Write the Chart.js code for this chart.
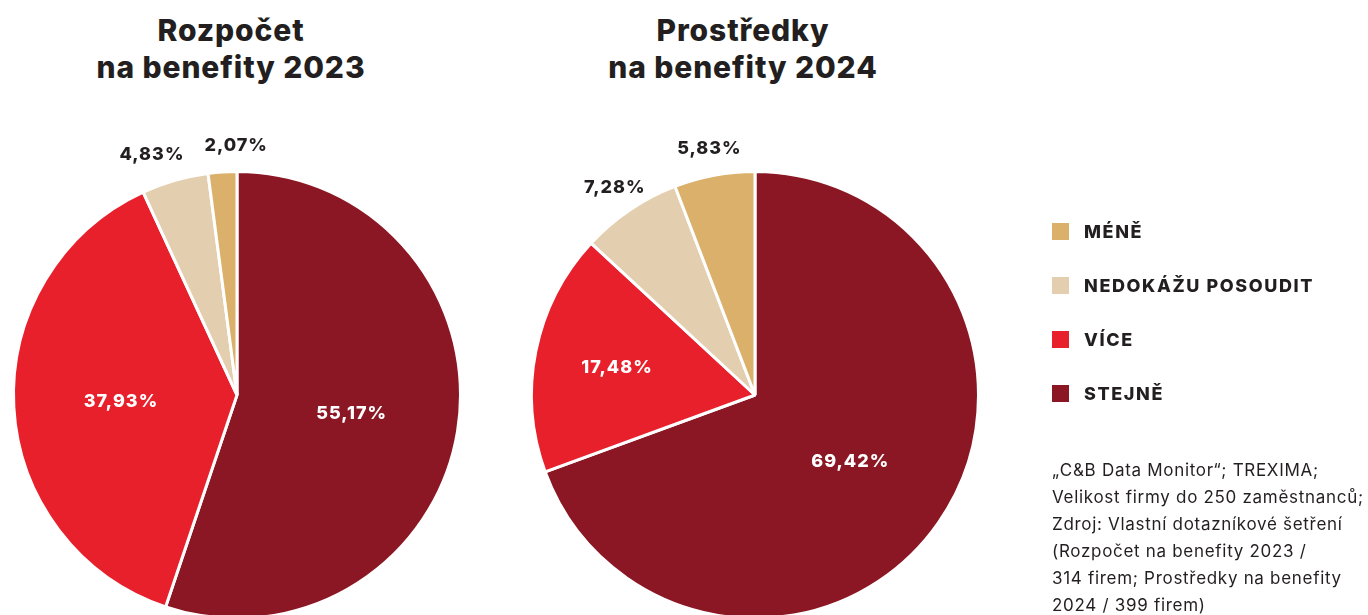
<!DOCTYPE html>
<html lang="cs">
<head>
<meta charset="utf-8">
<title>Rozpočet / Prostředky na benefity</title>
<script src="https://cdn.jsdelivr.net/npm/chart.js@4.4.1/dist/chart.umd.min.js"></script>
<style>
  html, body { margin: 0; padding: 0; background: #fff; }
  body { width: 1368px; height: 615px; position: relative; overflow: hidden; font-family: Inter, "Noto Sans", sans-serif; color: #231f20; }
  .title { position: absolute; top: 12px; width: 400px; text-align: center; font-weight: 800; font-size: 30px; line-height: 37px; letter-spacing: 0.9px; }
  .pie { position: absolute; top: 95px; }
  #legend { position: absolute; left: 1052px; top: 204px; }
  .item { display: flex; align-items: center; height: 54px; font-weight: 800; font-size: 18px; letter-spacing: 1.6px; }
  .item .sw { width: 17px; height: 17px; margin-right: 15px; }
  #source { position: absolute; left: 1052px; top: 457px; font-size: 17px; line-height: 27px; letter-spacing: 0.7px; white-space: nowrap; }
</style>
</head>
<body>
<div class="title" style="left:31px">Rozpočet<br>na benefity 2023</div>
<div class="title" style="left:543px">Prostředky<br>na benefity 2024</div>

<canvas id="pie2023" class="pie" width="600" height="600" style="left:-63px"></canvas>
<canvas id="pie2024" class="pie" width="600" height="600" style="left:455px"></canvas>

<div id="legend"></div>
<div id="source">„C&amp;B Data Monitor“; TREXIMA;<br>Velikost firmy do 250 zaměstnanců;<br>Zdroj: Vlastní dotazníkové šetření<br>(Rozpočet na benefity 2023 /<br>314 firem; Prostředky na benefity<br>2024 / 399 firem)</div>

<script>
// categories in drawing order (clockwise from the top)
const categories = ["STEJNĚ", "VÍCE", "NEDOKÁŽU POSOUDIT", "MÉNĚ"];
// percent of companies
const values2023 = [55.17, 37.93, 4.83, 2.07];
const values2024 = [69.42, 17.48, 7.28, 5.83];

const sliceColors = ["#8a1723", "#e8202c", "#e3cfb0", "#dab06a"];

function fmtPct(v) {
  return v.toFixed(2).replace(".", ",") + "%";
}

// writes the percent value on / next to every slice
const pctLabels = {
  id: "pctLabels",
  afterDatasetsDraw(chart) {
    const ctx = chart.ctx;
    const meta = chart.getDatasetMeta(0);
    const data = chart.data.datasets[0].data;
    ctx.save();
    ctx.font = "800 18px Inter, 'Noto Sans', sans-serif";
    ctx.letterSpacing = "1px";
    ctx.textAlign = "center";
    ctx.textBaseline = "middle";
    const labels = [];
    meta.data.forEach((arc, i) => {
      const p = arc.getProps(["x", "y", "startAngle", "endAngle", "outerRadius"], true);
      const mid = (p.startAngle + p.endAngle) / 2;
      const v = data[i];
      let f = 0.52;
      if (v < 10) f = 1.12;
      else if (v < 30) f = 0.63;
      const text = fmtPct(v);
      labels.push({
        text: text,
        x: p.x + Math.cos(mid) * p.outerRadius * f,
        y: p.y + Math.sin(mid) * p.outerRadius * f,
        w: ctx.measureText(text).width,
        outside: v < 10,
      });
    });
    // push neighbouring outside labels apart when they collide
    const out = labels.filter((l) => l.outside).sort((a, b) => a.x - b.x);
    for (let i = 1; i < out.length; i++) {
      const a = out[i - 1];
      const b = out[i];
      const need = (a.w + b.w) / 2 + 20;
      if (Math.abs(a.y - b.y) < 24 && b.x - a.x < need) {
        const d = (need - (b.x - a.x)) / 2;
        a.x -= d;
        b.x += d;
      }
    }
    labels.forEach((l) => {
      ctx.fillStyle = l.outside ? "#231f20" : "#ffffff";
      ctx.fillText(l.text, l.x, l.y);
    });
    ctx.restore();
  },
};

function makePie(id, values) {
  const ctx = document.getElementById(id).getContext("2d");
  new Chart(ctx, {
    type: "pie",
    data: {
      labels: categories,
      datasets: [
        {
          data: values,
          backgroundColor: sliceColors,
          borderColor: "#ffffff",
          borderWidth: 3,
        },
      ],
    },
    options: {
      responsive: false,
      animation: false,
      layout: { padding: 75 },
      plugins: {
        legend: { display: false },
        tooltip: { enabled: false },
      },
    },
    plugins: [pctLabels],
  });
}

makePie("pie2023", values2023);
makePie("pie2024", values2024);

// legend, listed bottom slice first like the original
const legend = document.getElementById("legend");
for (let i = categories.length - 1; i >= 0; i--) {
  const row = document.createElement("div");
  row.className = "item";
  row.innerHTML = '<span class="sw" style="background:' + sliceColors[i] + '"></span>' + categories[i];
  legend.appendChild(row);
}
</script>
</body>
</html>
